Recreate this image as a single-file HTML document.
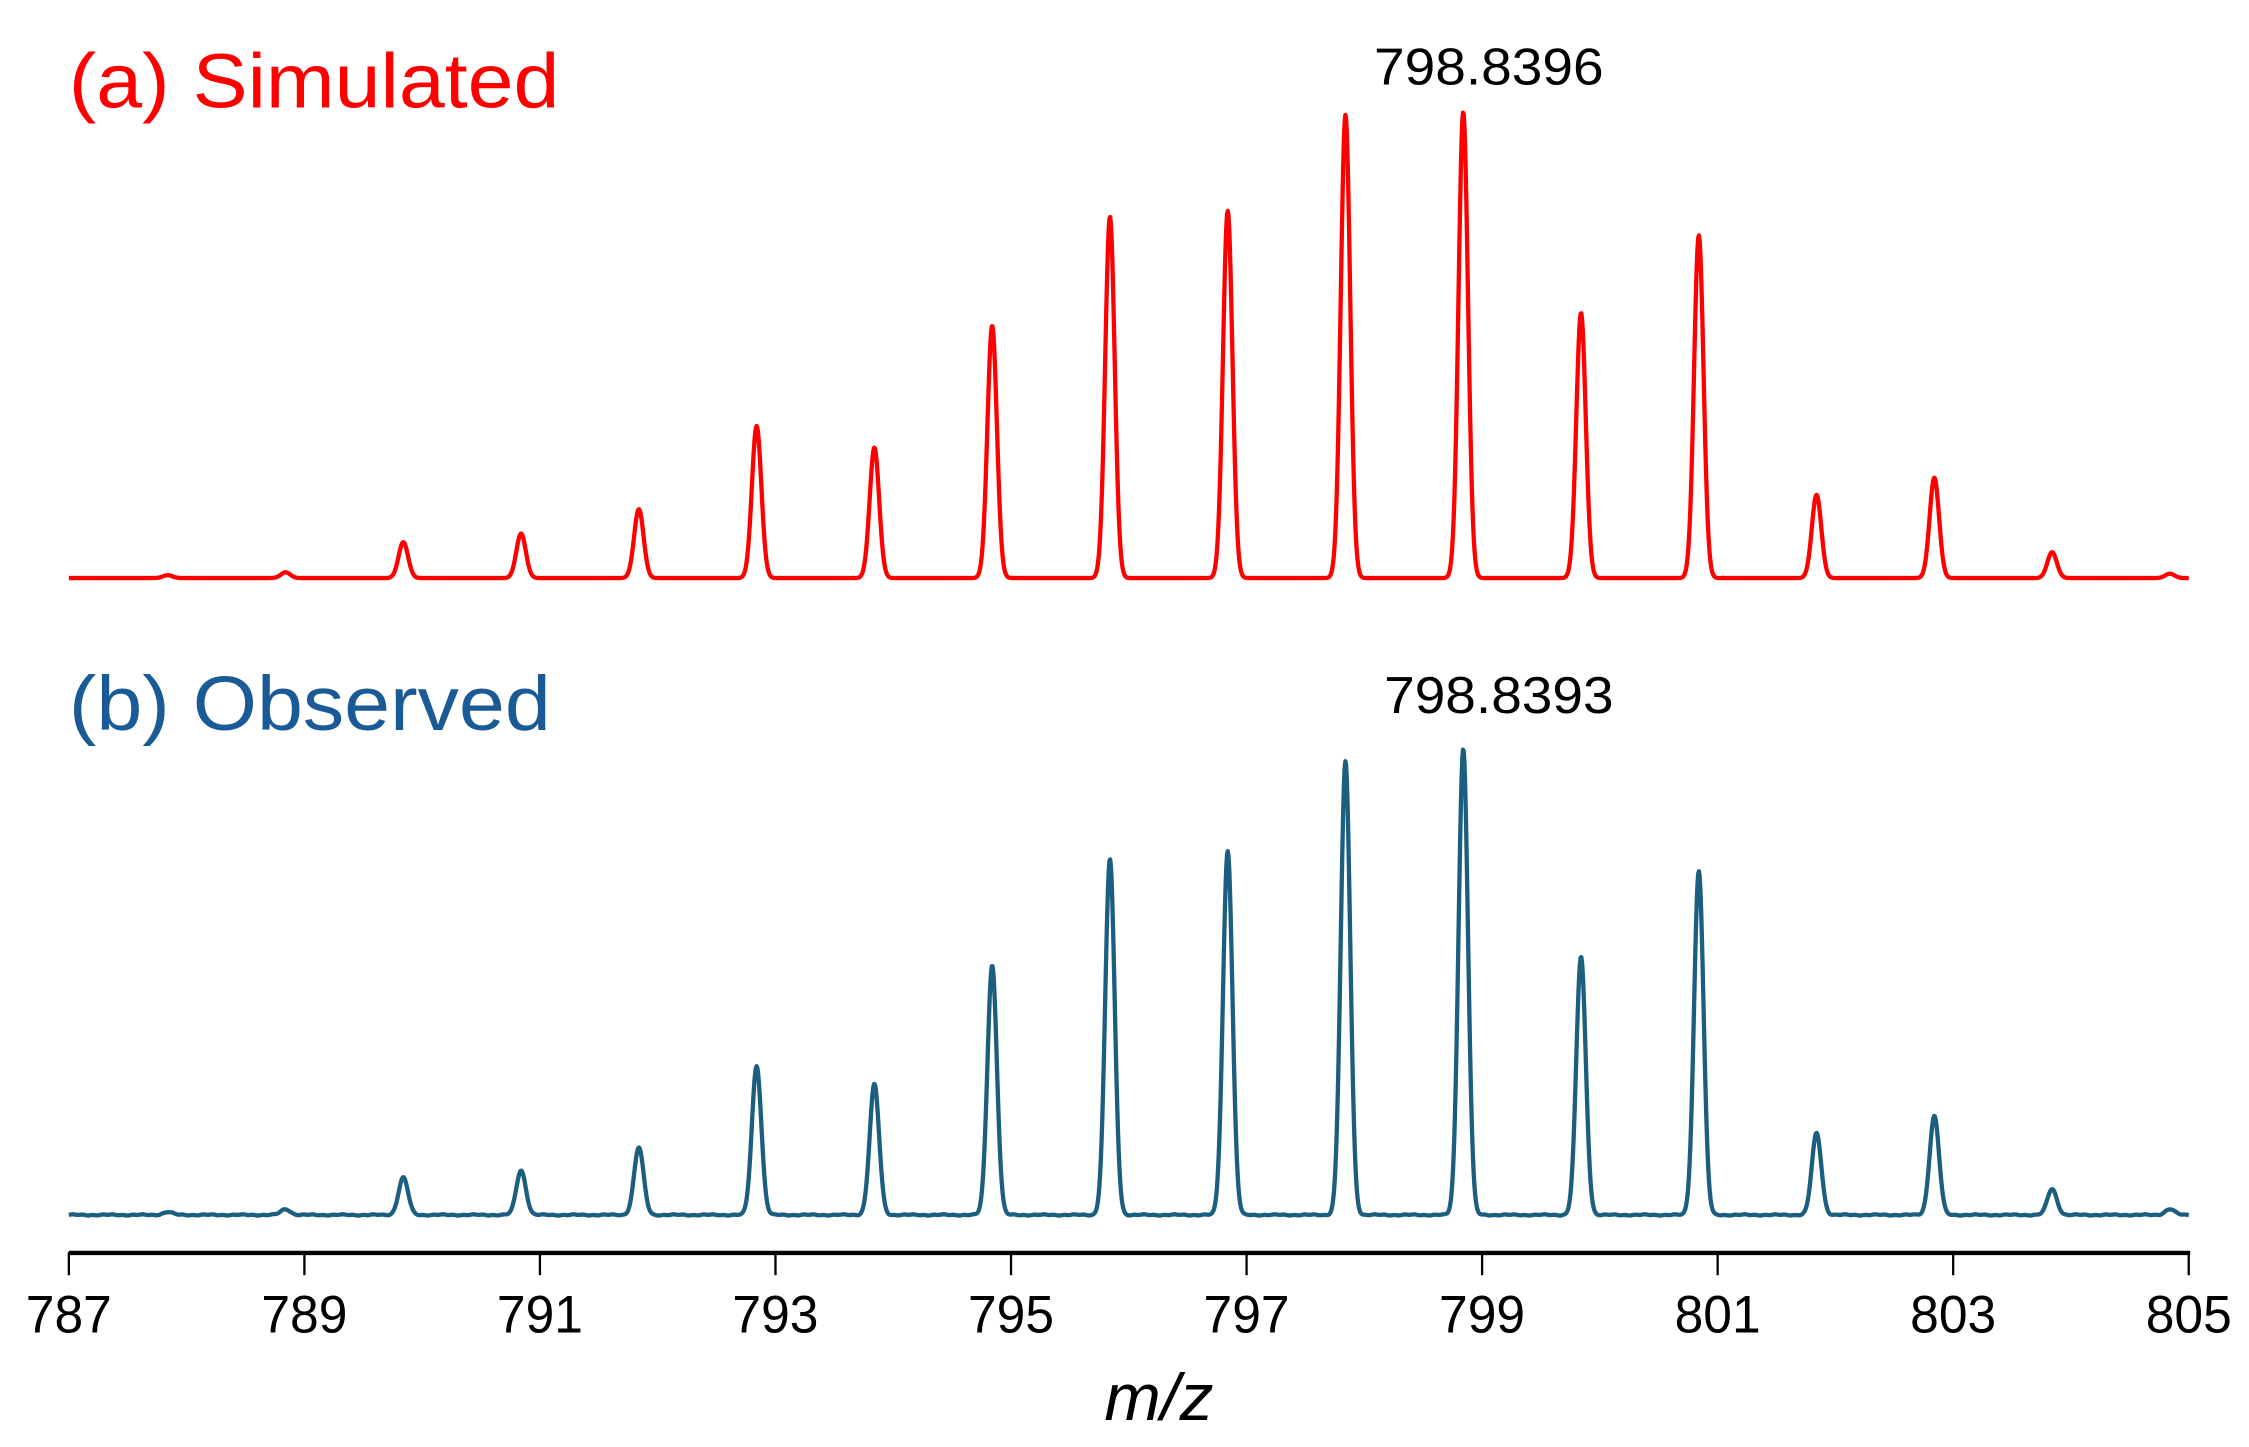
<!DOCTYPE html>
<html><head><meta charset="utf-8"><style>
html,body{margin:0;padding:0;background:#fff;width:2249px;height:1447px;overflow:hidden}
svg{display:block}
text{font-family:"Liberation Sans",Arial,sans-serif}
</style></head><body>
<svg id="s" width="2249" height="1447" viewBox="0 0 1568 1008.8" preserveAspectRatio="none">
<text x="48" y="75" font-size="54" fill="#ff0000" textLength="342" lengthAdjust="spacingAndGlyphs">(a) Simulated</text>
<text x="958" y="59" font-size="36" fill="#000" textLength="160" lengthAdjust="spacingAndGlyphs">798.8396</text>
<text x="48" y="509" font-size="54" fill="#1a5a96" textLength="336" lengthAdjust="spacingAndGlyphs">(b) Observed</text>
<text x="965" y="497" font-size="36" fill="#000" textLength="160" lengthAdjust="spacingAndGlyphs">798.8393</text>
<path id="red" fill="none" stroke="#ff0000" stroke-width="3" stroke-linejoin="round"/>
<path id="blue" fill="none" stroke="#1b5e80" stroke-width="3" stroke-linejoin="round"/>
<line x1="48" y1="873.5" x2="1527" y2="873.5" stroke="#000" stroke-width="3"/>
<g id="ticks" stroke="#000" stroke-width="1.6"></g>
<g id="labels" font-size="37" text-anchor="middle" fill="#000"></g>
<text x="808" y="990" font-size="46" font-style="italic" text-anchor="middle" fill="#000" textLength="76" lengthAdjust="spacingAndGlyphs">m/z</text>
</svg>
<script>
var X=function(m){return 48+(m-787)*82.11};
var rh=[2,4,25,31,48,106,91,176,252,256,323,325,185,239,58,70,18,3];
var bh=[2,4,26,31,47,104,91,174,248,254,316,325,180,240,57,69,18,4];
function build(h,base,noise){
  var d="",sig=3.3;
  for(var x=48;x<=1526;x+=0.5){
    var y=0;
    for(var k=0;k<h.length;k++){var c=X(787.84+k);var dx=x-c;if(Math.abs(dx)<30)y+=h[k]*Math.exp(-dx*dx/(2*sig*sig));}
    if(noise)y+=Math.sin(x*0.9)*0.2+Math.sin(x*0.27)*0.25;
    d+=(d?"L":"M")+x.toFixed(1)+" "+(base-y).toFixed(2);
  }
  return d;
}
document.getElementById("red").setAttribute("d",build(rh,403,false));
document.getElementById("blue").setAttribute("d",build(bh,847,true));
var t=document.getElementById("ticks"),l=document.getElementById("labels"),ns="http://www.w3.org/2000/svg";
for(var m=787;m<=805;m+=2){
  var x=X(m);
  var ln=document.createElementNS(ns,"line");ln.setAttribute("x1",x);ln.setAttribute("x2",x);ln.setAttribute("y1",873);ln.setAttribute("y2",889);t.appendChild(ln);
  var tx=document.createElementNS(ns,"text");tx.setAttribute("x",x);tx.setAttribute("y",929);tx.setAttribute("textLength",60);tx.setAttribute("lengthAdjust","spacingAndGlyphs");tx.textContent=m;l.appendChild(tx);
}
</script>
</body></html>
